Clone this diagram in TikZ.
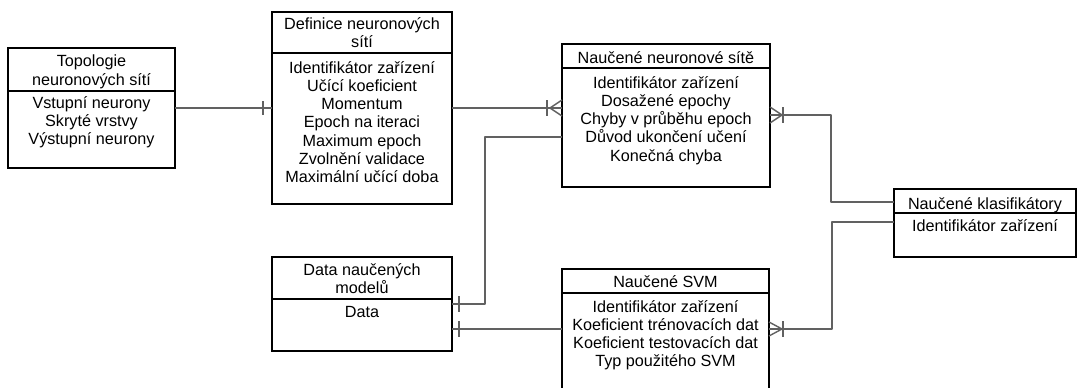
\documentclass[tikz,border=0pt]{standalone}
\usepackage{fontspec}
\setmainfont{Liberation Sans}
\usetikzlibrary{calc}
\begin{document}
\begin{tikzpicture}[x=1pt,y=-1pt,
  box/.style={draw=black, line width=1.1pt, rectangle, anchor=north west, inner sep=0pt, outer sep=0pt, fill=white},
  divider/.style={draw=black, line width=1.1pt},
  % multi-line texts are placed by the baseline of their last line
  txt/.style={anchor=base, align=center, inner sep=0pt, font=\fontsize{16.2}{18.3}\selectfont},
  conn/.style={draw=black!62, line width=1.4pt, line join=round},
  cardmark/.style={draw=black!62, line width=1.4pt}]
\clip (0,0) rectangle (1079,388);
\fill[white] (0,0) rectangle (1079,388);

% entity boxes
\node[box, minimum width=167pt, minimum height=120pt] (topo) at (8,48) {};
\node[box, minimum width=180pt, minimum height=192pt] (defn) at (272,12) {};
\node[box, minimum width=208pt, minimum height=143pt] (nn)   at (562,44) {};
\node[box, minimum width=182pt, minimum height=68pt]  (klas) at (894,189) {};
\node[box, minimum width=180pt, minimum height=94pt]  (data) at (272,257) {};
\node[box, minimum width=207pt, minimum height=130pt] (svm)  at (562,269) {};

% header dividers
\draw[divider] ($(topo.north west)+(0,43)$) -- ($(topo.north east)+(0,43)$);
\draw[divider] ($(defn.north west)+(0,41)$) -- ($(defn.north east)+(0,41)$);
\draw[divider] ($(nn.north west)+(0,24)$) -- ($(nn.north east)+(0,24)$);
\draw[divider] ($(klas.north west)+(0,24)$) -- ($(klas.north east)+(0,24)$);
\draw[divider] ($(data.north west)+(0,42)$) -- ($(data.north east)+(0,42)$);
\draw[divider] ($(svm.north west)+(0,24)$) -- ($(svm.north east)+(0,24)$);

% titles and attributes
\node[txt] (topoH) at (91.5,85) {Topologie\\neuronových sítí};
\node[txt] (topoB) at (91.5,144.6) {Vstupní neurony\\Skryté vrstvy\\Výstupní neurony};
\node[txt] (defnH) at (362,47.3) {Definice neuronových\\sítí};
\node[txt] (defnB) at (362,182.8) {Identifikátor zařízení\\Učící koeficient\\Momentum\\Epoch na iteraci\\Maximum epoch\\Zvolnění validace\\Maximální učící doba};
\node[txt] (nnH) at (666,63) {Naučené neuronové sítě};
\node[txt] (nnB) at (666,161.2) {Identifikátor zařízení\\Dosažené epochy\\Chyby v průběhu epoch\\Důvod ukončení učení\\Konečná chyba};
\node[txt] (klasH) at (985,209) {Naučené klasifikátory};
\node[txt] (klasB) at (985,231) {Identifikátor zařízení};
\node[txt] (dataH) at (362,293.3) {Data naučených\\modelů};
\node[txt] (dataB) at (362,317) {Data};
\node[txt] (svmH) at (665.5,287) {Naučené SVM};
\node[txt] (svmB) at (665.5,366.9) {Identifikátor zařízení\\Koeficient trénovacích dat\\Koeficient testovacích dat\\Typ použitého SVM};

% Topologie -- Definice (one)
\coordinate (c1a) at ($(topo.north east)+(0,60)$);
\coordinate (c1b) at ($(defn.north west)+(0,96)$);
\draw[conn] (c1a) -- (c1b);
\draw[cardmark] ($(c1b)+(-9,-7)$) -- ($(c1b)+(-9,7)$);

% Definice -- Naucene NN (one or many)
\coordinate (c2a) at ($(defn.north east)+(0,96)$);
\coordinate (c2b) at ($(nn.north west)+(0,64)$);
\draw[conn] (c2a) -- (c2b);
\draw[cardmark] ($(c2b)+(-15,-8)$) -- ($(c2b)+(-15,8)$);
\draw[cardmark] ($(c2b)+(0,-8)$) -- ($(c2b)+(-12,0)$) -- ($(c2b)+(0,8)$);

% Naucene NN -- Data (one)
\coordinate (c3a) at ($(nn.north west)+(0,93)$);
\coordinate (c3b) at ($(data.north east)+(0,47)$);
\draw[conn] (c3a) -- (485,137) -- (485,304) -- (c3b);
\draw[cardmark] ($(c3b)+(7,-8)$) -- ($(c3b)+(7,8)$);

% Data -- Naucene SVM (one)
\coordinate (c4a) at ($(data.north east)+(0,72)$);
\coordinate (c4b) at ($(svm.north west)+(0,60)$);
\draw[conn] (c4a) -- (c4b);
\draw[cardmark] ($(c4a)+(7,-8)$) -- ($(c4a)+(7,8)$);

% Naucene NN -- Klasifikatory (one or many)
\coordinate (c5a) at ($(nn.north east)+(0,71)$);
\coordinate (c5b) at ($(klas.north west)+(0,13)$);
\draw[conn] (c5a) -- (831,115) -- (831,202) -- (c5b);
\draw[cardmark] ($(c5a)+(13,-8)$) -- ($(c5a)+(13,8)$);
\draw[cardmark] ($(c5a)+(0,-8)$) -- ($(c5a)+(12,0)$) -- ($(c5a)+(0,8)$);

% Naucene SVM -- Klasifikatory (one or many)
\coordinate (c6a) at ($(svm.north east)+(0,60)$);
\coordinate (c6b) at ($(klas.north west)+(0,33)$);
\draw[conn] (c6a) -- (832,329) -- (832,222) -- (c6b);
\draw[cardmark] ($(c6a)+(14,-8)$) -- ($(c6a)+(14,8)$);
\draw[cardmark] ($(c6a)+(0,-7)$) -- ($(c6a)+(13,0)$) -- ($(c6a)+(0,7)$);
\end{tikzpicture}
\end{document}
